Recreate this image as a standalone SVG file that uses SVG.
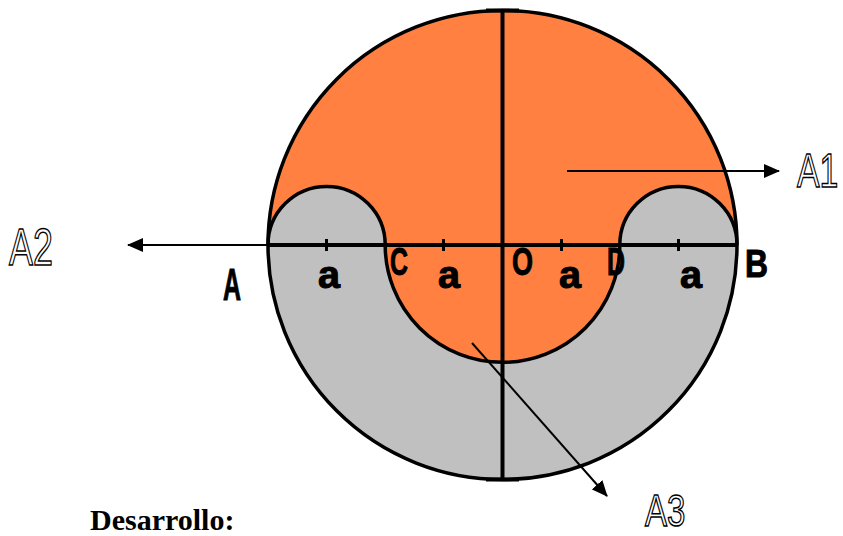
<svg xmlns="http://www.w3.org/2000/svg" width="843" height="536" viewBox="0 0 843 536">
  <style>
    .orange { fill: #FF8040; }
    .grey { fill: #C0C0C0; }
    .edge { fill: none; stroke: #000; stroke-width: 3.5; }
    .axis { stroke: #000; stroke-width: 4; fill: none; }
    .tick { stroke: #000; stroke-width: 3; }
    .arrow { stroke: #000; stroke-width: 2; fill: none; marker-end: url(#head); }
    .pt { font-family: "Liberation Sans", Arial, sans-serif; font-weight: bold; fill: #000; stroke: #000; stroke-width: 1; }
    .area { font-family: "Liberation Sans", Arial, sans-serif; fill: #fff; stroke: #000; stroke-width: 1.5; }
    .title { font-family: "Liberation Serif", "Times New Roman", serif; font-weight: bold; font-size: 30px; fill: #000; }
  </style>
  <defs>
    <marker id="head" markerWidth="16" markerHeight="14" refX="15" refY="7" orient="auto" markerUnits="userSpaceOnUse">
      <path d="M0,0 L16,7 L0,14 Z" fill="#000"/>
    </marker>
  </defs>

  <g id="figure">
    <path class="orange" d="M268,245 A234.5,234.5 0 0 1 737,245 Z"/>
    <path class="grey" d="M268,245 A234.5,234.5 0 0 0 737,245 Z"/>
    <path class="grey" d="M268,245 A58.6,58.6 0 0 1 385.2,245 Z"/>
    <path class="grey" d="M619.8,245 A58.6,58.6 0 0 1 737,245 Z"/>
    <path class="orange" d="M385.2,245 A117.3,117.3 0 0 0 619.8,245 Z"/>
    <circle class="edge" cx="502.5" cy="245" r="234.5"/>
    <path class="edge" d="M268,245 A58.6,58.6 0 0 1 385.2,245"/>
    <path class="edge" d="M619.8,245 A58.6,58.6 0 0 1 737,245"/>
    <path class="edge" d="M385.2,245 A117.3,117.3 0 0 0 619.8,245"/>
    <line class="axis" x1="502.5" y1="10" x2="502.5" y2="480"/>
    <line class="axis" x1="268" y1="245" x2="737" y2="245"/>
    <line class="axis" x1="486" y1="10.5" x2="519" y2="10.5"/>
    <line class="axis" x1="486" y1="479.5" x2="519" y2="479.5"/>
    <line class="tick" x1="326.5" y1="239" x2="326.5" y2="251"/>
    <line class="tick" x1="443.5" y1="239" x2="443.5" y2="251"/>
    <line class="tick" x1="561.5" y1="239" x2="561.5" y2="251"/>
    <line class="tick" x1="678.5" y1="239" x2="678.5" y2="251"/>
  </g>

  <g id="connectors">
    <line class="arrow" x1="567" y1="171" x2="779" y2="171"/>
    <line class="arrow" x1="268" y1="245" x2="128" y2="245"/>
    <line class="arrow" x1="472" y1="343" x2="607" y2="496"/>
  </g>

  <g id="point-labels">
    <text class="pt" x="223" y="300" font-size="45" textLength="18" lengthAdjust="spacingAndGlyphs">A</text>
    <text class="pt" x="390" y="275" font-size="38" textLength="18" lengthAdjust="spacingAndGlyphs">C</text>
    <text class="pt" x="512" y="275" font-size="38" textLength="21" lengthAdjust="spacingAndGlyphs">O</text>
    <text class="pt" x="607" y="275" font-size="38" textLength="18" lengthAdjust="spacingAndGlyphs">D</text>
    <text class="pt" x="745" y="277" font-size="38" textLength="23" lengthAdjust="spacingAndGlyphs">B</text>
    <text class="pt" x="318" y="288" font-size="38" textLength="22" lengthAdjust="spacingAndGlyphs">a</text>
    <text class="pt" x="438" y="288" font-size="38" textLength="22" lengthAdjust="spacingAndGlyphs">a</text>
    <text class="pt" x="559" y="288" font-size="38" textLength="22" lengthAdjust="spacingAndGlyphs">a</text>
    <text class="pt" x="680" y="288" font-size="38" textLength="22" lengthAdjust="spacingAndGlyphs">a</text>
  </g>

  <g id="A1" transform="translate(797,187) scale(0.69,1)"><text class="area" x="0" y="0" font-size="49">A1</text></g>
  <g id="A2" transform="translate(9,265) scale(0.69,1)"><text class="area" x="0" y="0" font-size="52">A2</text></g>
  <g id="A3" transform="translate(645,525.5) scale(0.75,1)"><text class="area" x="0" y="0" font-size="44">A3</text></g>

  <text class="title" x="90" y="530">Desarrollo:</text>
</svg>
